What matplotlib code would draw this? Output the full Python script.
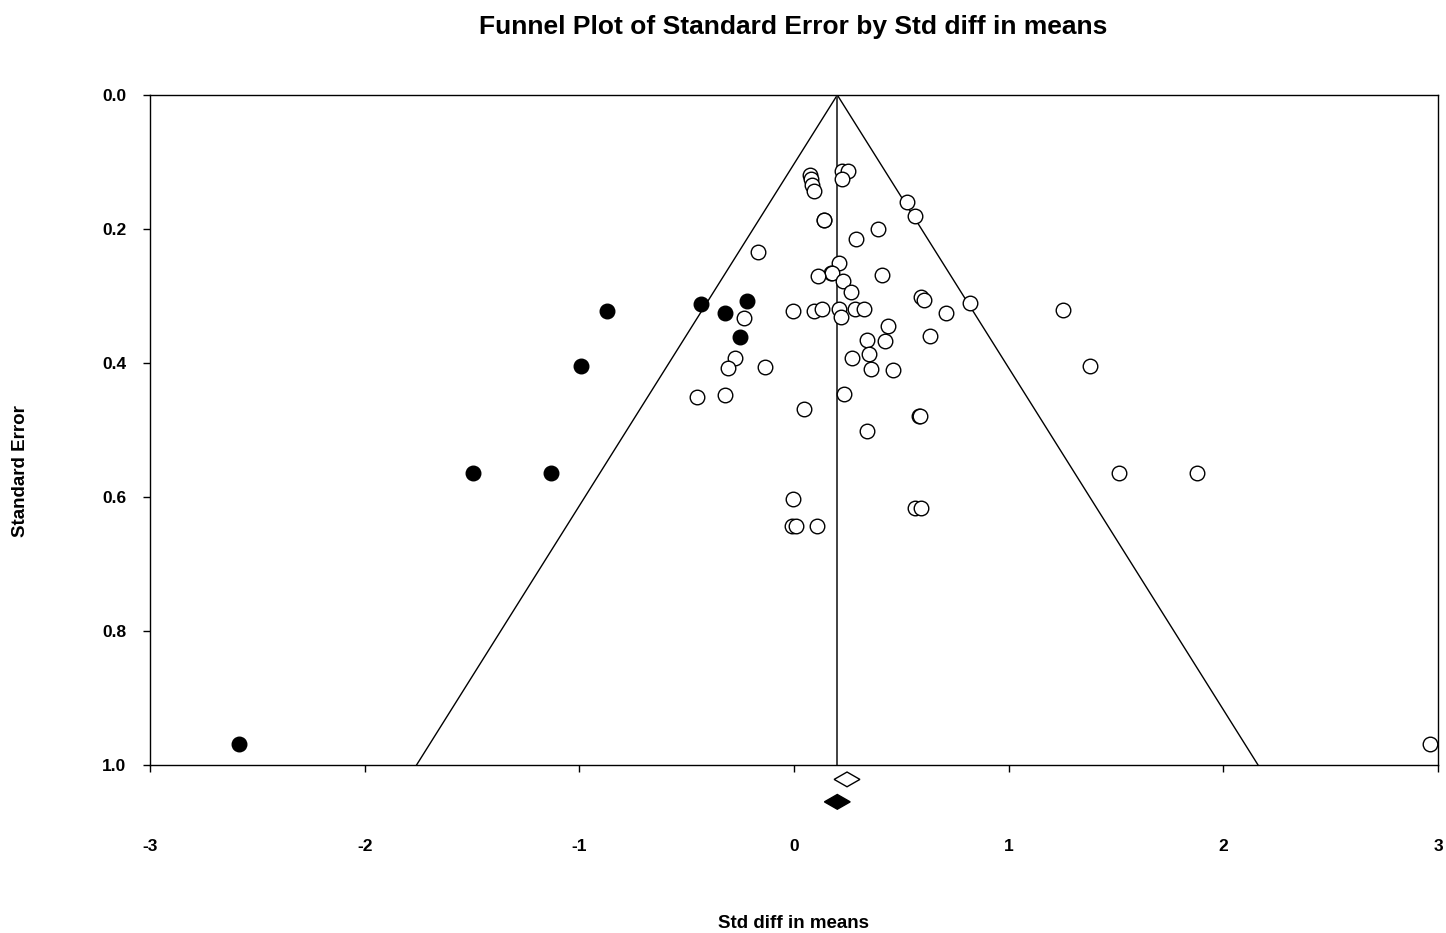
import numpy as np
import matplotlib
matplotlib.use("Agg")
import matplotlib.pyplot as plt
from matplotlib.patches import Polygon

plt.rcParams["font.family"] = ["Liberation Sans", "DejaVu Sans"]
plt.rcParams["font.weight"] = "bold"

# observed studies (open circles)
obs_x = [0.075, 0.079, 0.085, 0.093, 0.222, 0.250, 0.225, 0.528, 0.564, 0.138,
         0.142, 0.390, 0.287, -0.166, 0.208, 0.173, 0.177, 0.112, 0.408, 0.230,
         0.266, 0.590, 0.607, 0.820, -0.233, -0.006, 0.095, 0.132, 0.211, 0.220,
         0.284, 0.328, 0.707, 0.436, 0.339, 0.422, 0.634, 0.348, 0.272, -0.273,
         -0.306, -0.137, 0.360, 0.460, -0.452, -0.321, 0.233, 0.045, 0.582,
         0.588, 0.339, -0.006, -0.009, 0.009, 0.107, 0.565, 0.590, 1.253,
         1.379, 1.514, 1.877, 2.963]
obs_se = [0.119, 0.126, 0.134, 0.144, 0.113, 0.113, 0.126, 0.160, 0.181, 0.186,
          0.186, 0.200, 0.215, 0.235, 0.250, 0.266, 0.266, 0.270, 0.268, 0.277,
          0.294, 0.301, 0.306, 0.311, 0.333, 0.322, 0.323, 0.319, 0.319, 0.332,
          0.320, 0.320, 0.325, 0.345, 0.366, 0.367, 0.360, 0.386, 0.392, 0.392,
          0.408, 0.406, 0.409, 0.411, 0.451, 0.448, 0.446, 0.469, 0.479,
          0.479, 0.501, 0.603, 0.643, 0.643, 0.644, 0.616, 0.617, 0.321,
          0.404, 0.564, 0.564, 0.969]

# imputed studies (filled circles)
imp_x = [-0.435, -0.220, -0.321, -0.250, -0.871, -0.992, -1.495, -1.132, -2.585]
imp_se = [0.312, 0.307, 0.325, 0.361, 0.322, 0.404, 0.564, 0.564, 0.969]

# combined estimates (diamonds): centre, half width of CI, se position
obs_est, obs_hw, obs_pos = 0.247, 0.06, 1.0215
adj_est, adj_hw, adj_pos = 0.2017, 0.06, 1.055

fig = plt.figure(figsize=(14.46, 9.33), dpi=100)
ax = fig.add_axes([150 / 1446, 1 - 765 / 933, 1288 / 1446, 670 / 933])

# funnel around the adjusted estimate
se_line = np.array([0.0, 1.0])
ax.plot(adj_est - 1.96 * se_line, se_line, color="black", lw=1.0)
ax.plot(adj_est + 1.96 * se_line, se_line, color="black", lw=1.0)
ax.plot([adj_est, adj_est], [0, 1], color="#333333", lw=1.3)

ax.scatter(obs_x, obs_se, s=110, facecolors="white", edgecolors="black",
           linewidths=1.0, zorder=3, clip_on=False)
ax.scatter(imp_x, imp_se, s=110, facecolors="black", edgecolors="black",
           linewidths=1.0, zorder=3, clip_on=False)

dh = 0.011
ax.add_patch(Polygon([[obs_est - obs_hw, obs_pos], [obs_est, obs_pos - dh],
                      [obs_est + obs_hw, obs_pos], [obs_est, obs_pos + dh]],
                     closed=True, facecolor="white", edgecolor="black",
                     lw=1.0, clip_on=False))
ax.add_patch(Polygon([[adj_est - adj_hw, adj_pos], [adj_est, adj_pos - dh],
                      [adj_est + adj_hw, adj_pos], [adj_est, adj_pos + dh]],
                     closed=True, facecolor="black", edgecolor="black",
                     lw=1.0, clip_on=False))

ax.set_xlim(-3, 3)
ax.set_ylim(1.0, 0.0)
ax.set_xticks([-3, -2, -1, 0, 1, 2, 3])
ax.set_xticklabels(["-3", "-2", "-1", "0", "1", "2", "3"])
ax.set_yticks([0.0, 0.2, 0.4, 0.6, 0.8, 1.0])
ax.set_yticklabels(["0.0", "0.2", "0.4", "0.6", "0.8", "1.0"])
ax.tick_params(axis="x", direction="out", length=5, width=1, pad=48, labelsize=12.5)
ax.tick_params(axis="y", direction="out", length=5, width=1, pad=12, labelsize=12.5)
for sp in ax.spines.values():
    sp.set_linewidth(1.0)

fig.text(793 / 1446, 1 - 924 / 933, "Std diff in means", ha="center", va="center",
         fontsize=13.5, fontweight="bold")
fig.text(21 / 1446, 1 - 471 / 933, "Standard Error", ha="center", va="center",
         rotation=90, fontsize=13.5, fontweight="bold")
fig.text(793 / 1446, 1 - 27 / 933, "Funnel Plot of Standard Error by Std diff in means",
         ha="center", va="center", fontsize=19, fontweight="bold")

fig.savefig("out.png", dpi=100)
